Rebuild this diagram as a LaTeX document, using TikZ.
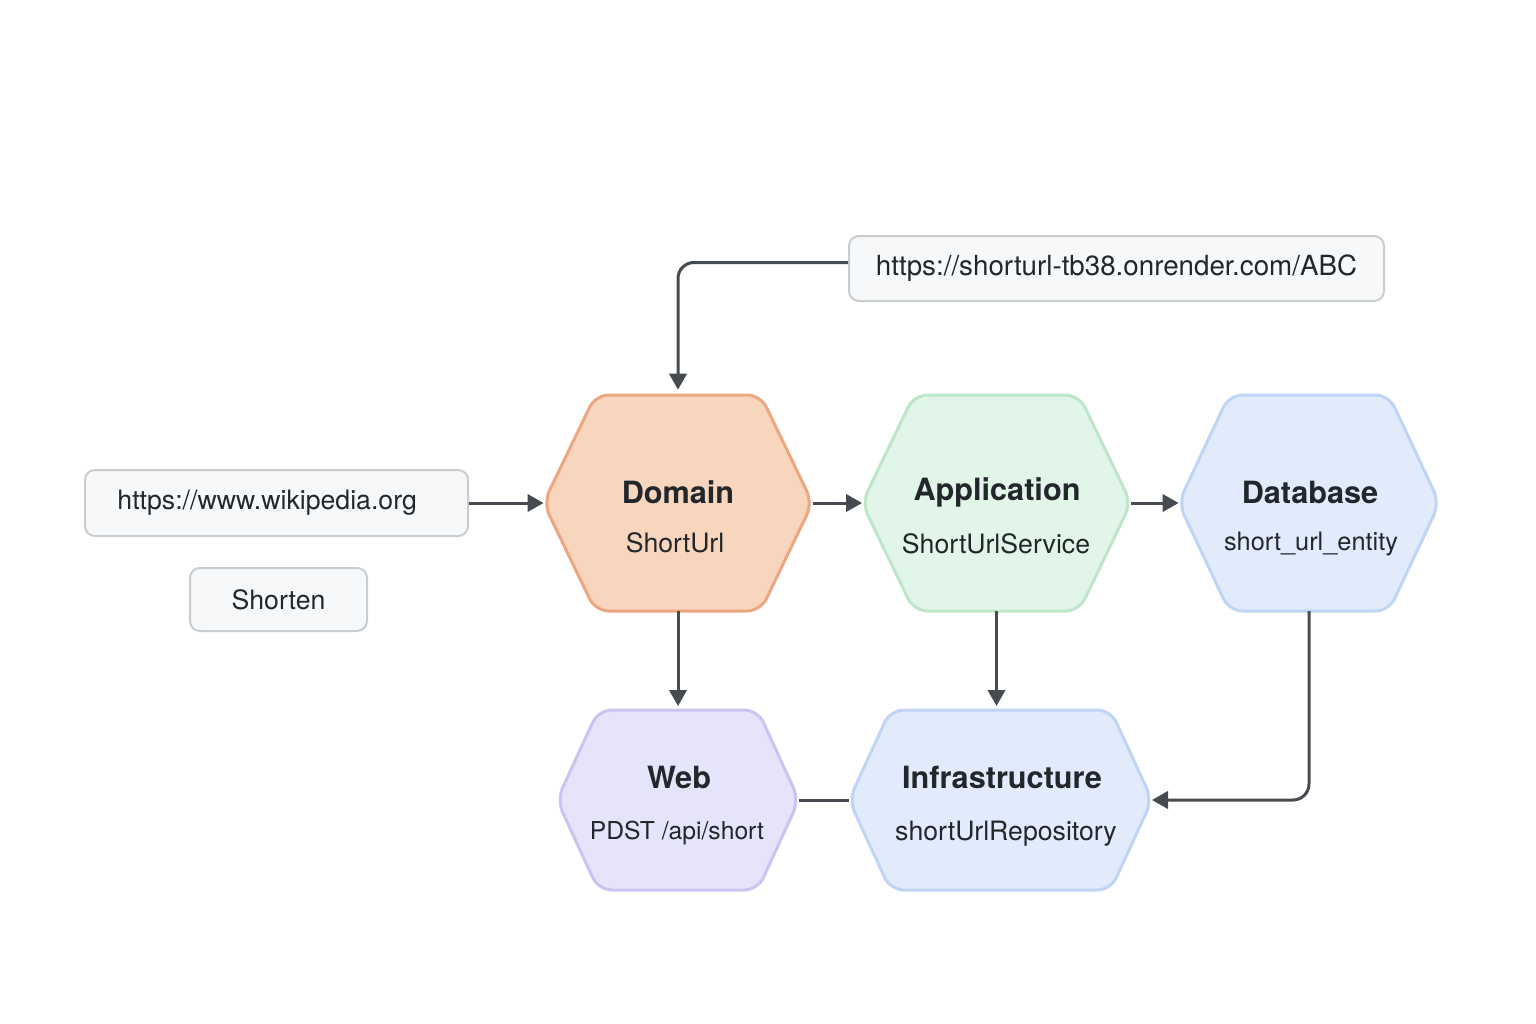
\documentclass[tikz,border=0pt]{standalone}
\usepackage{fontspec}
\setmainfont{TeX Gyre Heros}
\usetikzlibrary{arrows.meta}

\definecolor{ink}{HTML}{22272B}
\definecolor{wire}{HTML}{454B50}
\definecolor{boxFill}{HTML}{F7F8F9}
\definecolor{boxLine}{HTML}{C9CDD0}
\definecolor{domFill}{HTML}{F8D5BD}
\definecolor{domLine}{HTML}{ECA780}
\definecolor{appFill}{HTML}{E1F5E8}
\definecolor{appLine}{HTML}{BEE6C9}
\definecolor{dbFill}{HTML}{E1EBFC}
\definecolor{dbLine}{HTML}{BFD5F5}
\definecolor{webFill}{HTML}{E6E4FB}
\definecolor{webLine}{HTML}{CAC4F1}

\tikzset{every picture/.style={line width=0.75pt}}
\tikzset{
  urlbox/.style={draw=boxLine, fill=boxFill, line width=1.5pt, rounded corners=7.5pt,
    inner sep=0pt, text=ink, font=\fontsize{20}{24}\selectfont},
  hexbox/.style={inner sep=0pt, outer sep=0pt},
  hexline/.style={line width=2.25pt, rounded corners=10pt},
  hextitle/.style={text=ink, font=\fontsize{23}{27}\selectfont\bfseries},
  hexsub/.style={text=ink, font=\fontsize{20}{24}\selectfont},
  flow/.style={draw=wire, line width=2.25pt, -{Triangle[length=12pt,width=13pt]}},
  link/.style={draw=wire, line width=2.25pt},
}

\begin{document}
\begin{tikzpicture}[x=0.75pt,y=0.75pt,yscale=-1,xscale=1]

\path [use as bounding box] (0,0) rectangle (1536,1024);

% input boxes
\node [urlbox, minimum width=287.25pt, minimum height=49.5pt] (wiki) at (276.5,503) {https://www.wikipedia.org\kern14pt};
\node [urlbox, minimum width=132.75pt, minimum height=47.25pt] (shorten) at (278.5,599.5) {Shorten};
\node [urlbox, minimum width=401.25pt, minimum height=48.75pt, font=\fontsize{20.8}{24}\selectfont] (url) at (1116.5,268.5) {https://shorturl-tb38.onrender.com/ABC};

% hexagon frames
\node [hexbox, minimum width=201.75pt, minimum height=162pt] (dom) at (678,503) {};
\node [hexbox, minimum width=201.75pt, minimum height=162pt] (app) at (996.5,503) {};
\node [hexbox, minimum width=195.75pt, minimum height=162pt] (db) at (1309,503) {};
\node [hexbox, minimum width=181.5pt, minimum height=135pt] (web) at (678,800) {};
\node [hexbox, minimum width=227.25pt, minimum height=135pt] (infra) at (1000.5,800) {};

\foreach \n/\d/\f/\l in {dom/39/domFill/domLine, app/39/appFill/appLine, db/38/dbFill/dbLine,
                         web/31/webFill/webLine, infra/31/dbFill/dbLine}
  \draw [hexline, draw=\l, fill=\f] (\n.west) -- ([xshift=\d pt]\n.north west) -- ([xshift=-\d pt]\n.north east)
        -- (\n.east) -- ([xshift=-\d pt]\n.south east) -- ([xshift=\d pt]\n.south west) -- cycle ;

% hexagon texts
\node [hextitle] (domT) at (678,492) {Domain};
\node [hexsub] (domS) at (675,543) {ShortUrl};
\node [hextitle] (appT) at (997,492) {Application};
\node [hexsub] (appS) at (996,544) {ShortUrlService};
\node [hextitle] (dbT) at (1310,492) {Database};
\node [hexsub, font=\fontsize{19}{24}\selectfont] (dbS) at (1311,544) {short\_url\_entity};
\node [hextitle] (webT) at (679,777) {Web};
\node [hexsub, font=\fontsize{18.5}{24}\selectfont] (webS) at (677,833) {PDST /api/short};
\node [hextitle] (infraT) at (1002,777) {Infrastructure};
\node [hexsub] (infraS) at (1006,834) {shortUrlRepository};

% connectors
\draw [flow] (wiki.east) -- (dom.west) ;
\draw [flow, rounded corners=12pt] ([yshift=-4.5pt]url.west) -| ([yshift=-4pt]dom.north) ;
\draw [flow] (dom.east) -- (app.west) ;
\draw [flow] (app.east) -- (db.west) ;
\draw [flow, shorten >=3pt] (dom.south) -- (dom.south |- web.north) ;
\draw [flow, shorten >=3pt] (app.south) -- (app.south |- infra.north) ;
\draw [flow, rounded corners=12pt] (db.south) |- (infra.east) ;
\draw [link] (web.east) -- (infra.west) ;

\end{tikzpicture}
\end{document}
